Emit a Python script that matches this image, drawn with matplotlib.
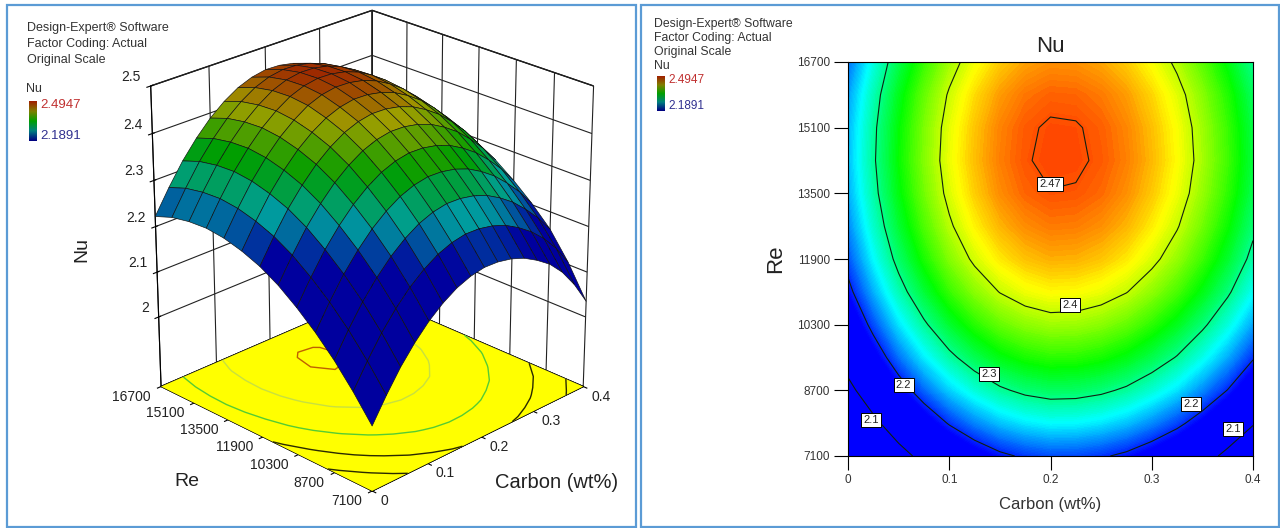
"""
Nu response surface for Carbon (wt%) and Re: 3D view and contour view.
"""

import numpy as np
import matplotlib
matplotlib.use("Agg")
import matplotlib.pyplot as plt
from matplotlib.colors import LinearSegmentedColormap, Normalize
from matplotlib.patches import Rectangle
from mpl_toolkits.mplot3d import proj3d

plt.rcParams["font.family"] = ["Liberation Sans", "DejaVu Sans"]

# =====================================================
# DATA
# =====================================================

carbon = [0, .025, .05, .075, .1, .125, .15, .175, .2, .225, .25, .275, .3, .325, .35, .375, .4]
re_values = [7100, 7900, 8700, 9500, 10300, 11100, 11900, 12700, 13500, 14300, 15100, 15900, 16700]

# one row per Re, one column per carbon
nu = [
    [1.982, 2.033, 2.079, 2.117, 2.149, 2.174, 2.193, 2.205, 2.211, 2.210, 2.204, 2.193, 2.176, 2.155, 2.125, 2.085, 2.035],
    [2.036, 2.087, 2.133, 2.171, 2.203, 2.228, 2.247, 2.259, 2.265, 2.264, 2.258, 2.247, 2.230, 2.209, 2.182, 2.148, 2.105],
    [2.084, 2.135, 2.181, 2.219, 2.251, 2.276, 2.295, 2.307, 2.313, 2.312, 2.306, 2.295, 2.278, 2.257, 2.230, 2.199, 2.162],
    [2.125, 2.176, 2.222, 2.260, 2.292, 2.317, 2.336, 2.348, 2.354, 2.353, 2.347, 2.336, 2.319, 2.298, 2.271, 2.240, 2.203],
    [2.160, 2.211, 2.257, 2.295, 2.327, 2.352, 2.371, 2.383, 2.389, 2.388, 2.382, 2.371, 2.354, 2.333, 2.306, 2.275, 2.238],
    [2.190, 2.241, 2.287, 2.325, 2.357, 2.382, 2.401, 2.413, 2.419, 2.418, 2.412, 2.401, 2.384, 2.363, 2.336, 2.305, 2.268],
    [2.213, 2.264, 2.310, 2.348, 2.380, 2.405, 2.424, 2.436, 2.442, 2.441, 2.435, 2.424, 2.407, 2.386, 2.359, 2.328, 2.291],
    [2.229, 2.280, 2.326, 2.364, 2.396, 2.421, 2.440, 2.452, 2.458, 2.457, 2.451, 2.440, 2.423, 2.402, 2.375, 2.344, 2.307],
    [2.240, 2.291, 2.337, 2.375, 2.407, 2.432, 2.4519, 2.4639, 2.4694, 2.4685, 2.4625, 2.451, 2.434, 2.413, 2.386, 2.355, 2.318],
    [2.245, 2.296, 2.342, 2.380, 2.412, 2.437, 2.4565, 2.4685, 2.4740, 2.4731, 2.4671, 2.456, 2.439, 2.418, 2.391, 2.360, 2.323],
    [2.243, 2.294, 2.340, 2.378, 2.410, 2.435, 2.4550, 2.4670, 2.4725, 2.4716, 2.4656, 2.454, 2.437, 2.416, 2.389, 2.358, 2.321],
    [2.236, 2.287, 2.333, 2.371, 2.403, 2.428, 2.4473, 2.4593, 2.4648, 2.4639, 2.4579, 2.447, 2.430, 2.409, 2.382, 2.351, 2.314],
    [2.222, 2.273, 2.319, 2.357, 2.389, 2.414, 2.433, 2.445, 2.451, 2.450, 2.444, 2.433, 2.416, 2.395, 2.368, 2.337, 2.300],
]

nu_min = 2.1891
nu_max = 2.4947

carbon_ticks = [0, 0.1, 0.2, 0.3, 0.4]
carbon_tick_labels = ["0", "0.1", "0.2", "0.3", "0.4"]
re_ticks = [7100, 8700, 10300, 11900, 13500, 15100, 16700]
nu_ticks = [2, 2.1, 2.2, 2.3, 2.4, 2.5]
nu_tick_labels = ["2", "2.1", "2.2", "2.3", "2.4", "2.5"]
contour_levels = [2.1, 2.2, 2.3, 2.4, 2.47]

# labels sitting on the contour lines: level, carbon, Re
label_levels = ["2.47", "2.4", "2.3", "2.2", "2.2", "2.1", "2.1"]
label_carbon = [.1995, .219, .139, .055, .339, .023, .38]
label_re = [13727, 10780, 9098, 8830, 8367, 7977, 7758]

info_lines = ["Design-Expert® Software", "Factor Coding: Actual", "Original Scale"]

# =====================================================
# SETUP
# =====================================================

W, H = 1280, 528
fig = plt.figure(figsize=(W / 100, H / 100), dpi=100)


def fx(px):
    return px / W


def fy(px):
    return 1 - px / H


X, Y = np.meshgrid(carbon, re_values)
Z = np.array(nu)

design = LinearSegmentedColormap.from_list(
    "design",
    [(0, "#0000ff"), (.25, "#00ffff"), (.5, "#00ff00"), (.75, "#ffff00"), (1, "#ff0000")],
)
key_cmap = LinearSegmentedColormap.from_list("key", ["#000080", "#008080", "#00a000", "#808000", "#a02000"])
norm = Normalize(nu_min, nu_max)

# blue frames around the two panels
for left, right in [(7, 636), (641, 1279)]:
    fig.add_artist(Rectangle((fx(left), fy(527)), fx(right - left), fy(5) - fy(527),
                             transform=fig.transFigure, fill=False, edgecolor="#5b9bd5", linewidth=1.6))

# =====================================================
# LEFT: 3D SURFACE
# =====================================================

floor = 1.842

ax3 = fig.add_axes([fx(80), fy(511), fx(570), fy(0) - fy(528)], projection="3d", computed_zorder=False)
ax3.set_proj_type("persp", focal_length=1.0)
ax3.view_init(elev=24.5, azim=-135)
ax3.set_box_aspect((1, 1, 1.08), zoom=1.0)
ax3.patch.set_alpha(0)

# one plain yellow sheet for the floor
floor_x, floor_y = np.meshgrid(carbon_ticks[::4], re_ticks[::6])
ax3.plot_surface(floor_x, floor_y, np.full(floor_x.shape, floor), color="#ffff00", shade=False, linewidth=0, zorder=1)

floor_colors = ["#2a2a00", "#2a2a00", "#55cc33", "#c8e040", "#c06000"]
ax3.contour(X, Y, Z, levels=contour_levels, zdir="z", offset=floor, colors=floor_colors, linewidths=1, zorder=2)

faces = design(norm(Z)) * np.array([.62, .62, .62, 1])
ax3.plot_surface(X, Y, Z, facecolors=faces, rstride=1, cstride=1, shade=False,
                 edgecolor="#101010", linewidth=0.45, zorder=3)

ax3.set_xlim(carbon_ticks[0], carbon_ticks[-1])
ax3.set_ylim(re_ticks[0], re_ticks[-1])
ax3.set_zlim(floor, nu_ticks[-1])
ax3.set_xticks(carbon_ticks)
ax3.set_yticks(re_ticks)
ax3.set_zticks(nu_ticks)
ax3.set_xticklabels([])
ax3.set_yticklabels([])
ax3.set_zticklabels([])

for axis in (ax3.xaxis, ax3.yaxis, ax3.zaxis):
    axis.set_pane_color((1, 1, 1, 1))
    axis.pane.set_edgecolor("black")
    axis._axinfo["grid"]["color"] = "#222222"
    axis._axinfo["grid"]["linewidth"] = 0.8
    axis.line.set_color("black")


def tick_label(text, x, y, z, dx, dy, ha):
    # native 3D tick labels sit too far out, so hang them next to the tick
    px, py, _ = proj3d.proj_transform(x, y, z, ax3.get_proj())
    ax3.annotate(text, (px, py), xytext=(dx, dy), textcoords="offset pixels", ha=ha, va="center",
                 fontsize=10, color="#222222", annotation_clip=False)


for value, text in zip(carbon_ticks, carbon_tick_labels):
    tick_label(text, value, re_ticks[0], floor, 8, -10, "left")
for value in re_ticks:
    tick_label(str(value), carbon_ticks[0], value, floor, -10, -10, "right")
for value, text in zip(nu_ticks, nu_tick_labels):
    tick_label(text, carbon_ticks[0], re_ticks[-1], value, -10, 9, "right")

fig.text(fx(82), fy(250), "Nu", rotation=90, fontsize=14, ha="center", va="center", color="#222222")
fig.text(fx(187), fy(482), "Re", fontsize=14, ha="center", va="center", color="#222222")
fig.text(fx(557), fy(483), "Carbon (wt%)", fontsize=14.5, ha="center", va="center", color="#222222")

# =====================================================
# RIGHT: CONTOURS
# =====================================================

ax2 = fig.add_axes([fx(848), fy(456), fx(1253 - 848), fy(62) - fy(456)])
ax2.contourf(X, Y, Z, levels=np.linspace(nu_min, nu_max, 120), cmap=design, norm=norm, extend="both")
ax2.contour(X, Y, Z, levels=contour_levels, colors="#102010", linewidths=0.8)

for text, c, r in zip(label_levels, label_carbon, label_re):
    ax2.text(c, r, text, fontsize=8, ha="center", va="center", color="#222222",
             bbox=dict(boxstyle="square,pad=0.2", facecolor="white", edgecolor="black", linewidth=0.7))

ax2.set_xlim(carbon_ticks[0], carbon_ticks[-1])
ax2.set_ylim(re_ticks[0], re_ticks[-1])
ax2.set_xticks(carbon_ticks)
ax2.set_xticklabels(carbon_tick_labels)
ax2.set_yticks(re_ticks)
ax2.tick_params(direction="out", length=10, width=0.8, labelsize=8.5, labelcolor="#333333", pad=3)
ax2.set_title("Nu", fontsize=16, color="#222222", pad=7)
ax2.set_xlabel("Carbon (wt%)", fontsize=12, color="#333333", labelpad=8)
ax2.set_ylabel("Re", fontsize=16, color="#222222", labelpad=8)

# =====================================================
# INFO TEXT AND SMALL COLOUR KEYS
# =====================================================

gradient = np.linspace(nu_max, nu_min, 64).reshape(-1, 1)

panels = [
    dict(x=27, y=28, step=16, size=9, nu_x=26, nu_y=89, key_x=29, key_top=101, key_bottom=141, value_size=9.5),
    dict(x=654, y=24, step=14, size=8.8, nu_x=654, nu_y=66, key_x=657, key_top=76, key_bottom=111, value_size=8.5),
]
for p in panels:
    for i, line in enumerate(info_lines):
        fig.text(fx(p["x"]), fy(p["y"] + i * p["step"]), line, fontsize=p["size"], va="center", color="#333333")
    fig.text(fx(p["nu_x"]), fy(p["nu_y"]), "Nu", fontsize=p["size"], va="center", color="#333333")
    key = fig.add_axes([fx(p["key_x"]), fy(p["key_bottom"]), fx(8), fy(p["key_top"]) - fy(p["key_bottom"])])
    key.imshow(gradient, cmap=key_cmap, aspect="auto", norm=norm)
    key.axis("off")
    fig.text(fx(p["key_x"] + 11), fy(p["key_top"] + 4), f"{nu_max:.4f}", fontsize=p["value_size"], va="center", color="#c03030")
    fig.text(fx(p["key_x"] + 11), fy(p["key_bottom"] - 5), f"{nu_min:.4f}", fontsize=p["value_size"], va="center", color="#303090")

fig.savefig("out.png", dpi=100)
